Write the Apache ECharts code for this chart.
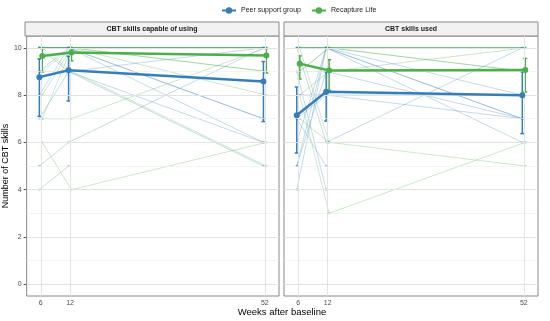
<!DOCTYPE html>
<html><head><meta charset="utf-8">
<script src="https://cdn.jsdelivr.net/npm/echarts@6/dist/echarts.min.js"></script>
<style>html,body{margin:0;padding:0;background:#fff}#c{width:550px;height:321px}</style>
</head><body><div id="c"></div>
<script>
// ---------- data ----------
const weeks = [6, 12, 52];
const panelTitles = ['CBT skills capable of using', 'CBT skills used'];
const groupNames = ['Peer support group', 'Recapture Life'];
const yTickValues = [0, 2, 4, 6, 8, 10];
const yGridValues = [0, 1, 2, 3, 4, 5, 6, 7, 8, 9, 10];

// panel 1: capable of using — group means and error bars
const capPeerMean = [8.76, 9.05, 8.58];
const capPeerLow = [7.1, 7.75, 6.88];
const capPeerHigh = [9.53, 9.64, 9.42];
const capRecapMean = [9.65, 9.8, 9.68];
const capRecapLow = [8.98, 9.45, 8.93];
const capRecapHigh = [9.97, 9.97, 9.97];
// panel 2: used
const usedPeerMean = [7.15, 8.14, 7.99];
const usedPeerLow = [5.55, 6.9, 6.37];
const usedPeerHigh = [8.34, 8.99, 8.99];
const usedRecapMean = [9.33, 9.04, 9.06];
const usedRecapLow = [8.68, 8.2, 8.13];
const usedRecapHigh = [9.66, 9.5, 9.55];

// individual participants (week 6, 12, 52)
const capPeerIndiv = [[10,10,10],[10,10,10],[10,10,10],[10,10,7],[9,9,5],[7,9,6],[5,6,10],[4,5,null],[10,10,7],[10,9,10],[9,10,6],[8,10,10]];
const capRecapIndiv = [[10,10,10],[10,10,10],[10,10,10],[8,10,9],[7,7,10],[6,4,6],[9,10,8],[10,9,5],[10,10,10],[7,10,10],[10,10,9]];
const usedPeerIndiv = [[10,10,10],[10,10,8],[5,10,10],[4,10,7],[7,5,null],[8,8,7],[10,6,10],[6,10,7],[9,4,null],[7,8,8],[10,10,6],[5,9,7]];
const usedRecapIndiv = [[10,10,10],[10,10,9],[9,10,10],[9,9,9],[10,6,5],[8,3,6],[7,6,6],[10,10,10],[8,9,10],[10,10,9],[9,10,10]];

// ---------- styling ----------
const FONT = 'Liberation Sans';
const colors = ['#377EB8', '#4DAF4A'];
const faint = ['rgba(55,126,184,0.42)', 'rgba(77,175,74,0.42)'];
const dodge = [-0.3, 0.3];
const grids = [
  {left: 25, top: 36, width: 254, height: 260},
  {left: 284, top: 36, width: 254, height: 260}
];

const panelData = [
  {indiv: [capPeerIndiv, capRecapIndiv],
   mean: [capPeerMean, capRecapMean], low: [capPeerLow, capRecapLow], high: [capPeerHigh, capRecapHigh]},
  {indiv: [usedPeerIndiv, usedRecapIndiv],
   mean: [usedPeerMean, usedRecapMean], low: [usedPeerLow, usedRecapLow], high: [usedPeerHigh, usedRecapHigh]}
];

const series = [];
panelData.forEach((pd, p) => {
  const ml = [];
  yGridValues.forEach(v => ml.push({yAxis: v, lineStyle: {color: v % 2 === 0 ? '#e3e3e3' : '#efefef', width: v % 2 === 0 ? 1 : 0.7, type: 'solid'}}));
  weeks.forEach(w => ml.push({xAxis: w, lineStyle: {color: '#e3e3e3', width: 1, type: 'solid'}}));
  series.push({
    type: 'line', name: 'grid' + p, xAxisIndex: p, yAxisIndex: p, data: [], silent: true, z: 0,
    markLine: {silent: true, symbol: ['none', 'none'], label: {show: false}, data: ml, animation: false}
  });
  for (let g = 0; g < 2; g++) {
    pd.indiv[g].forEach((traj, k) => {
      series.push({
        type: 'line', name: 'indiv' + p + g + k, xAxisIndex: p, yAxisIndex: p, silent: true, z: 2,
        data: weeks.map((w, i) => [w + dodge[g], traj[i]]),
        symbol: 'rect', symbolSize: 2, showSymbol: true, connectNulls: false,
        lineStyle: {color: faint[g], width: 0.7},
        itemStyle: {color: faint[g]}
      });
    });
  }
  for (let g = 0; g < 2; g++) {
    series.push({
      type: 'custom', name: 'err' + p + g, xAxisIndex: p, yAxisIndex: p, z: 4, silent: true,
      itemStyle: {color: colors[g]},
      data: weeks.map((w, i) => [w + dodge[g], pd.low[g][i], pd.high[g][i]]),
      encode: {x: 0, y: [1, 2]},
      renderItem: (params, api) => {
        const x = api.value(0);
        const a = api.coord([x, api.value(1)]);
        const b = api.coord([x, api.value(2)]);
        const w = 2;
        const st = {stroke: colors[g], lineWidth: 1.5};
        return {type: 'group', children: [
          {type: 'line', shape: {x1: a[0], y1: a[1], x2: b[0], y2: b[1]}, style: st},
          {type: 'line', shape: {x1: a[0] - w, y1: a[1], x2: a[0] + w, y2: a[1]}, style: st},
          {type: 'line', shape: {x1: b[0] - w, y1: b[1], x2: b[0] + w, y2: b[1]}, style: st}
        ]};
      }
    });
    series.push({
      type: 'line', name: groupNames[g], xAxisIndex: p, yAxisIndex: p, z: 5,
      color: colors[g],
      data: weeks.map((w, i) => [w + dodge[g], pd.mean[g][i]]),
      symbol: 'circle', symbolSize: 6,
      lineStyle: {color: colors[g], width: 2.5},
      itemStyle: {color: colors[g]}
    });
  }
});

const xAxes = grids.map((gr, p) => ({
  type: 'value', gridIndex: p, min: 3.1, max: 54.9,
  splitLine: {show: false}, axisLine: {show: false},
  axisTick: {show: true, customValues: weeks, length: 3, lineStyle: {color: '#555'}},
  axisLabel: {customValues: weeks, color: '#4d4d4d', fontSize: 7, fontFamily: FONT, margin: 4}
}));
const yAxes = grids.map((gr, p) => ({
  type: 'value', gridIndex: p, min: -0.5, max: 10.5,
  splitLine: {show: false}, axisLine: {show: false},
  axisTick: {show: p === 0, customValues: yTickValues, length: 3, lineStyle: {color: '#555'}},
  axisLabel: {show: p === 0, customValues: yTickValues, color: '#4d4d4d', fontSize: 7, fontFamily: FONT, margin: 5},
  name: p === 0 ? 'Number of CBT skills' : '', nameLocation: 'middle', nameGap: 7,
  nameTextStyle: {fontSize: 9, fontFamily: FONT, color: '#000'}
}));

const graphics = [];
grids.forEach((gr, p) => {
  graphics.push({type: 'rect', shape: {x: gr.left, y: 22, width: gr.width, height: 14},
    style: {fill: '#f2f2f2', stroke: '#888', lineWidth: 1}, silent: true});
  graphics.push({type: 'text', x: gr.left + gr.width / 2, y: 29,
    style: {text: panelTitles[p], textAlign: 'center', textVerticalAlign: 'middle',
      font: 'bold 7px "Liberation Sans"', fill: '#1a1a1a'}, silent: true});
});
graphics.push({type: 'text', x: 282, y: 312,
  style: {text: 'Weeks after baseline', textAlign: 'center', textVerticalAlign: 'middle',
    font: '9.5px "Liberation Sans"', fill: '#000'}, silent: true});

const chart = echarts.init(document.getElementById('c'), null, {renderer: 'canvas'});
chart.setOption({
  animation: false,
  backgroundColor: '#fff',
  legend: {data: groupNames, top: 2, left: 216, itemWidth: 14, itemHeight: 8, itemGap: 10,
    textStyle: {fontSize: 7, fontFamily: FONT, color: '#1a1a1a'}},
  grid: grids.map(g => Object.assign({show: true, borderColor: '#888', borderWidth: 1, backgroundColor: 'transparent'}, g)),
  xAxis: xAxes,
  yAxis: yAxes,
  graphic: graphics,
  series: series
});
</script></body></html>
